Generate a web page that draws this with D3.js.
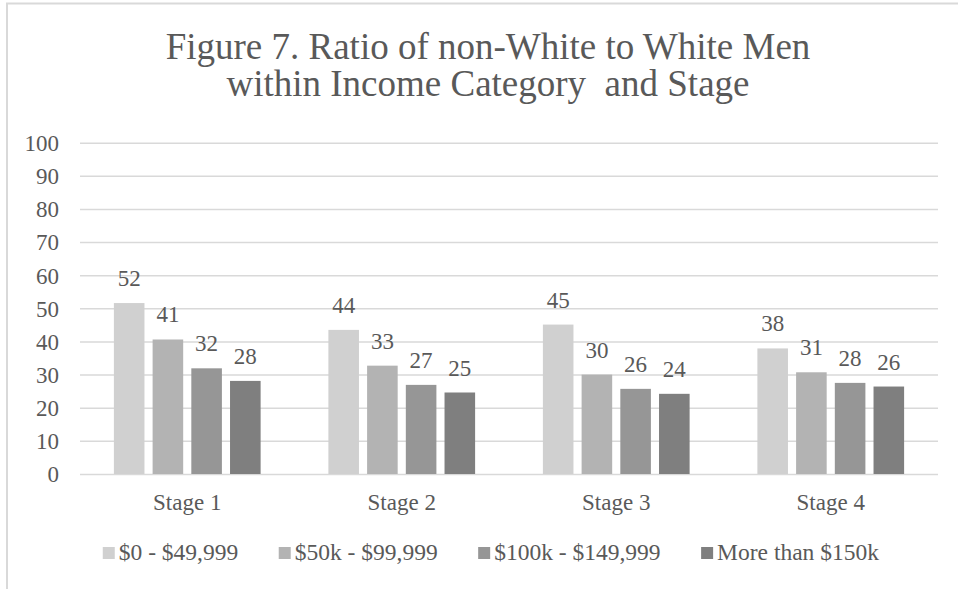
<!DOCTYPE html>
<html>
<head>
<meta charset="utf-8">
<script src="https://cdn.jsdelivr.net/npm/d3@7"></script>
<style>
  body { margin: 0; background: #fff; }
  svg text { font-family: "Liberation Serif", "Times New Roman", serif; fill: #595959; }
</style>
</head>
<body>
<div id="chart"></div>
<script>
// ---------------------------- DATA ----------------------------//
const stages = ["Stage 1", "Stage 2", "Stage 3", "Stage 4"];
const seriesNames = ["$0 - $49,999", "$50k - $99,999", "$100k - $149,999", "More than $150k"];
const income0to50 = [51.6, 43.5, 45.1, 37.9];
const income50to100 = [40.6, 32.7, 30.0, 30.7];
const income100to150 = [31.9, 26.9, 25.7, 27.5];
const incomeOver150 = [28.1, 24.6, 24.2, 26.4];
const yTicks = [0, 10, 20, 30, 40, 50, 60, 70, 80, 90, 100];
const titleLines = ["Figure 7. Ratio of non-White to White Men", "within Income Category  and Stage"];

const seriesValues = [income0to50, income50to100, income100to150, incomeOver150];
const colors = ["#d0d0d0", "#b3b3b3", "#969696", "#7f7f7f"];

const rows = stages.map((s, i) => ({
  stage: s,
  values: seriesNames.map((n, j) => ({ key: n, value: seriesValues[j][i], idx: j }))
}));

// ---------------------------- LAYOUT ----------------------------//
const W = 958, H = 589;
const plot = { left: 80, right: 938, top: 142.7, bottom: 474 };
const labelSize = "23px";

const svg = d3.select("#chart").append("svg")
    .attr("width", W)
    .attr("height", H);

// chart frame (cropped on the right and bottom in the original)
svg.append("rect")
    .attr("x", 7).attr("y", 3.5)
    .attr("width", W + 20).attr("height", H + 20)
    .attr("fill", "none")
    .attr("stroke", "#d9d9d9")
    .attr("stroke-width", 2);

// ---------------------------- SCALES ----------------------------//
const x0 = d3.scaleBand()
    .domain(stages)
    .range([plot.left, plot.right])
    .paddingInner(0.316)
    .paddingOuter(0.158);

const x1 = d3.scaleBand()
    .domain(seriesNames)
    .range([0, x0.bandwidth()])
    .paddingInner(0.21);

const y = d3.scaleLinear()
    .domain([0, 100])
    .range([plot.bottom, plot.top]);

// ---------------------------- TITLE ----------------------------//
svg.append("g").selectAll("text")
    .data(titleLines)
    .enter().append("text")
    .attr("x", 488)
    .attr("y", (d, i) => 59 + i * 37)
    .attr("text-anchor", "middle")
    .style("font-size", "37px")
    .style("white-space", "pre")
    .text(d => d);

// ---------------------------- GRID + Y AXIS ----------------------------//
const yAxis = d3.axisLeft(y)
    .tickValues(yTicks)
    .tickSize(-(plot.right - plot.left))
    .tickPadding(21);

svg.append("g")
    .attr("class", "y-axis")
    .attr("transform", "translate(" + plot.left + ",0)")
    .call(yAxis)
    .call(g => g.select(".domain").remove())
    .call(g => g.selectAll("line").attr("stroke", "#d9d9d9").attr("stroke-width", 1.5))
    .call(g => g.selectAll("text")
        .style("font-size", labelSize)
        .style("font-family", "Liberation Serif, serif")
        .attr("fill", "#595959")
        .attr("dy", "0.34em"));

// ---------------------------- X AXIS ----------------------------//
const xAxis = d3.axisBottom(x0).tickSize(0).tickPadding(20);
svg.append("g")
    .attr("class", "x-axis")
    .attr("transform", "translate(0," + plot.bottom + ")")
    .call(xAxis)
    .call(g => g.select(".domain").remove())
    .call(g => g.selectAll("text")
        .style("font-size", labelSize)
        .style("font-family", "Liberation Serif, serif")
        .attr("fill", "#595959"));

// ---------------------------- BARS ----------------------------//
const groups = svg.append("g").selectAll("g")
    .data(rows)
    .enter().append("g")
    .attr("transform", d => "translate(" + x0(d.stage) + ",0)");

groups.selectAll("rect")
    .data(d => d.values)
    .enter().append("rect")
    .attr("x", d => x1(d.key))
    .attr("y", d => y(d.value))
    .attr("width", x1.bandwidth())
    .attr("height", d => y(0) - y(d.value))
    .attr("fill", d => colors[d.idx]);

groups.selectAll("text")
    .data(d => d.values)
    .enter().append("text")
    .attr("x", d => x1(d.key) + x1.bandwidth() / 2)
    .attr("y", d => y(d.value) - 17)
    .attr("text-anchor", "middle")
    .style("font-size", labelSize)
    .text(d => d3.format(".0f")(d.value));

// ---------------------------- LEGEND ----------------------------//
const legend = svg.append("g").attr("class", "legend");
const items = legend.selectAll("g")
    .data(seriesNames)
    .enter().append("g");

items.append("rect")
    .attr("width", 12).attr("height", 12)
    .attr("y", -13)
    .attr("fill", (d, i) => colors[i]);

items.append("text")
    .attr("x", 16)
    .attr("y", 0)
    .style("font-size", "23.5px")
    .text(d => d);

// place legend entries side by side, centred
const gap = 40.5;
let cursor = 0;
const widths = [];
items.each(function() { widths.push(this.getBBox().width); });
const total = d3.sum(widths) + gap * (widths.length - 1);
const startX = 491 - total / 2;
items.attr("transform", function(d, i) {
  const tx = startX + cursor;
  cursor += widths[i] + gap;
  return "translate(" + tx + ",560)";
});
</script>
</body>
</html>
